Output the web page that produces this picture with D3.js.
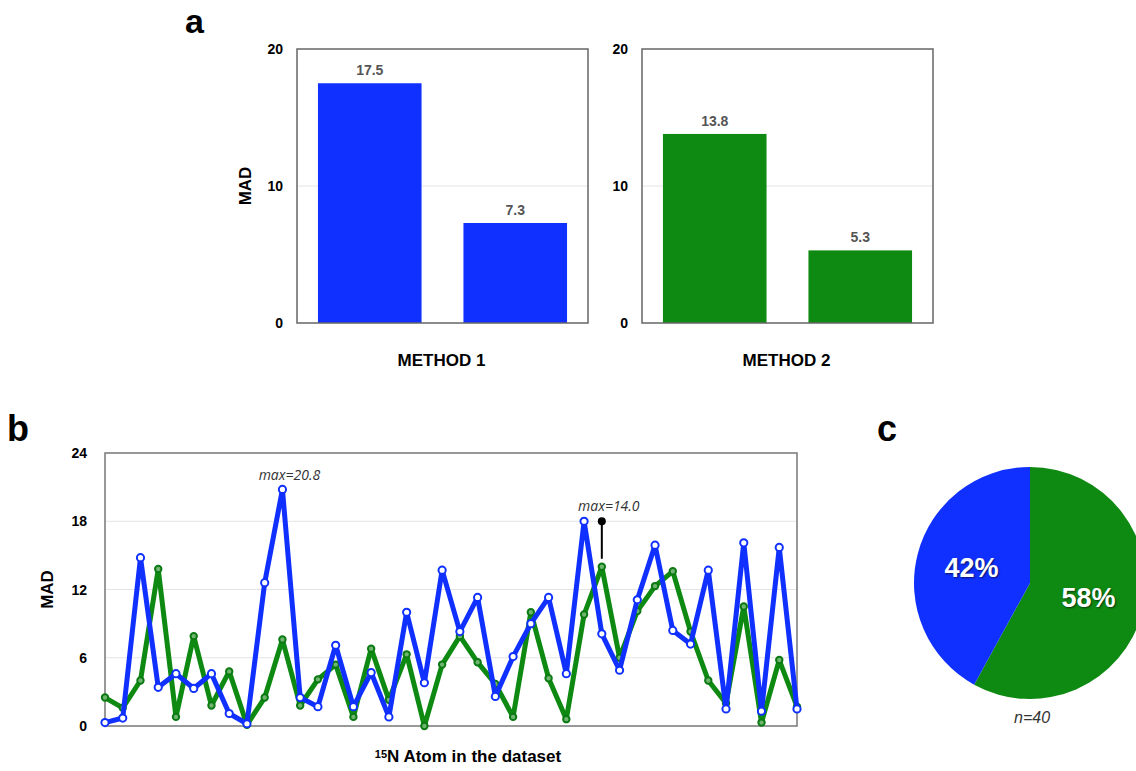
<!DOCTYPE html>
<html>
<head>
<meta charset="utf-8">
<script src="https://cdn.jsdelivr.net/npm/d3@7"></script>
<style>
  body { margin: 0; background: #fff; }
  svg { display: block; font-family: "Liberation Sans", Arial, sans-serif; }
  .pielabel { text-shadow: 1px 1px 2px rgba(0,0,0,0.6); }
</style>
</head>
<body>
<div id="fig"></div>
<script>
// colours
const BLUE = "#1030ff";
const GREEN = "#0e8a12";

// panel a data
const methods = ["METHOD 1", "METHOD 2"];
const barGroups = ["before", "after"];
const method1Values = [17.5, 7.3];
const method2Values = [13.8, 5.3];
const barTicks = [0, 10, 20];

// panel b data (40 atoms)
const blueSeries = [0.3, 0.7, 14.8, 3.4, 4.6, 3.3, 4.6, 1.1, 0.2, 12.6,
  20.8, 2.5, 1.7, 7.1, 1.7, 4.7, 0.8, 10.0, 3.8, 13.7,
  8.3, 11.3, 2.6, 6.1, 9.0, 11.3, 4.6, 18.0, 8.1, 4.9,
  11.1, 15.9, 8.4, 7.2, 13.7, 1.5, 16.1, 1.3, 15.7, 1.5];
const greenSeries = [2.5, 1.6, 4.0, 13.8, 0.8, 7.9, 1.8, 4.8, 0.1, 2.5,
  7.6, 1.8, 4.1, 5.4, 0.8, 6.8, 2.3, 6.3, 0.0, 5.4,
  7.9, 5.6, 3.7, 0.8, 10.0, 4.2, 0.6, 9.8, 14.0, 6.0,
  10.1, 12.3, 13.6, 8.3, 4.0, 2.0, 10.5, 0.3, 5.8, 1.7];
const lineTicks = [0, 6, 12, 18, 24];

// panel c data
const pieLabels = ["58%", "42%"];
const pieValues = [58, 42];
const pieColors = [GREEN, BLUE];
const pieN = "n=40";

const svg = d3.select("#fig").append("svg")
  .attr("width", 1136).attr("height", 771);

//////////////// panel a ////////////////
svg.append("text").attr("x", 185).attr("y", 33)
  .attr("font-size", 34).attr("font-weight", "bold").text("a");

function barPanel(left, values, color, label, showMad) {
  const w = 291, top = 49, h = 274;
  const g = svg.append("g").attr("transform", `translate(${left},${top})`);
  const x = d3.scaleBand().domain(barGroups).range([0, w])
    .paddingInner(0.288).paddingOuter(0.144);
  const y = d3.scaleLinear().domain([0, 20]).range([h, 0]);

  g.append("line").attr("x1", 0).attr("x2", w)
    .attr("y1", y(10)).attr("y2", y(10))
    .attr("stroke", "#e4e4e4").attr("stroke-width", 1);

  g.selectAll("rect.bar").data(values).join("rect")
    .attr("class", "bar")
    .attr("x", (d, i) => x(barGroups[i]))
    .attr("width", x.bandwidth())
    .attr("y", d => y(d))
    .attr("height", d => h - y(d))
    .attr("fill", color);

  g.selectAll("text.val").data(values).join("text")
    .attr("class", "val")
    .attr("x", (d, i) => x(barGroups[i]) + x.bandwidth() / 2)
    .attr("y", d => y(d) - 8)
    .attr("text-anchor", "middle")
    .attr("font-size", 14).attr("font-weight", "bold")
    .attr("fill", "#555").text(d => d.toFixed(1));

  g.append("rect").attr("width", w).attr("height", h)
    .attr("fill", "none").attr("stroke", "#666").attr("stroke-width", 1.5);

  g.selectAll("text.tick").data(barTicks).join("text")
    .attr("class", "tick")
    .attr("x", -14).attr("y", d => y(d) + 5)
    .attr("text-anchor", "end")
    .attr("font-size", 14).attr("font-weight", "bold").text(d => d);

  g.append("text").attr("x", w / 2 - 1).attr("y", h + 43)
    .attr("text-anchor", "middle")
    .attr("font-size", 17).attr("font-weight", "bold").text(label);

  if (showMad) {
    g.append("text")
      .attr("transform", `translate(${-46},${y(10)}) rotate(-90)`)
      .attr("text-anchor", "middle")
      .attr("font-size", 17).attr("font-weight", "bold").text("MAD");
  }
}
barPanel(297, method1Values, BLUE, methods[0], true);
barPanel(642, method2Values, GREEN, methods[1], false);

//////////////// panel b ////////////////
svg.append("text").attr("x", 7).attr("y", 441)
  .attr("font-size", 36).attr("font-weight", "bold").text("b");

const bm = { left: 105, top: 453, width: 692, height: 273 };
const gb = svg.append("g").attr("transform", `translate(${bm.left},${bm.top})`);
const xb = d3.scaleLinear().domain([0, blueSeries.length - 1]).range([0, bm.width]);
const yb = d3.scaleLinear().domain([0, 24]).range([bm.height, 0]);

gb.selectAll("line.grid").data(lineTicks.slice(1, 4)).join("line")
  .attr("class", "grid")
  .attr("x1", 0).attr("x2", bm.width)
  .attr("y1", d => yb(d)).attr("y2", d => yb(d))
  .attr("stroke", "#e4e4e4");

gb.append("rect").attr("width", bm.width).attr("height", bm.height)
  .attr("fill", "none").attr("stroke", "#777").attr("stroke-width", 1.5);

gb.selectAll("text.tick").data(lineTicks).join("text")
  .attr("class", "tick")
  .attr("x", -18).attr("y", d => yb(d) + 5)
  .attr("text-anchor", "end")
  .attr("font-size", 14).attr("font-weight", "bold").text(d => d);

gb.append("text")
  .attr("transform", `translate(${-52},${yb(12)}) rotate(-90)`)
  .attr("text-anchor", "middle")
  .attr("font-size", 17).attr("font-weight", "bold").text("MAD");

const xl = gb.append("text").attr("x", 363).attr("y", 309)
  .attr("text-anchor", "middle")
  .attr("font-size", 17).attr("font-weight", "bold");
xl.append("tspan").attr("font-size", 11).attr("dy", -4).text("15");
xl.append("tspan").attr("dy", 4).text("N Atom in the dataset");

const lineGen = d3.line().x((d, i) => xb(i)).y(d => yb(d));

gb.append("path").datum(greenSeries)
  .attr("d", lineGen).attr("fill", "none")
  .attr("stroke", GREEN).attr("stroke-width", 5).attr("stroke-linejoin", "round");
gb.selectAll("circle.g").data(greenSeries).join("circle")
  .attr("class", "g")
  .attr("cx", (d, i) => xb(i)).attr("cy", d => yb(d))
  .attr("r", 3.2).attr("fill", "#6fb56f").attr("stroke", "#0b7a12").attr("stroke-width", 2);

gb.append("path").datum(blueSeries)
  .attr("d", lineGen).attr("fill", "none")
  .attr("stroke", BLUE).attr("stroke-width", 5).attr("stroke-linejoin", "round");
gb.selectAll("circle.b").data(blueSeries).join("circle")
  .attr("class", "b")
  .attr("cx", (d, i) => xb(i)).attr("cy", d => yb(d))
  .attr("r", 3.6).attr("fill", "#fff").attr("stroke", BLUE).attr("stroke-width", 2);

// max annotations
const blueMaxI = d3.maxIndex(blueSeries);
const greenMaxI = d3.maxIndex(greenSeries);
gb.append("text")
  .attr("x", xb(blueMaxI) + 7).attr("y", yb(blueSeries[blueMaxI]) - 9)
  .attr("text-anchor", "middle").attr("font-style", "italic")
  .attr("font-family", "'Open Sans', sans-serif")
  .attr("font-size", 14).attr("fill", "#333")
  .text("max=" + blueSeries[blueMaxI].toFixed(1));

gb.append("line")
  .attr("x1", xb(greenMaxI)).attr("x2", xb(greenMaxI))
  .attr("y1", yb(18)).attr("y2", yb(greenSeries[greenMaxI]) - 8)
  .attr("stroke", "#000").attr("stroke-width", 2);
gb.append("circle").attr("cx", xb(greenMaxI)).attr("cy", yb(18))
  .attr("r", 4).attr("fill", "#000");
gb.append("text")
  .attr("x", xb(greenMaxI) + 7).attr("y", yb(18) - 10)
  .attr("text-anchor", "middle").attr("font-style", "italic")
  .attr("font-family", "'Open Sans', sans-serif")
  .attr("font-size", 14).attr("fill", "#333")
  .text("max=" + greenSeries[greenMaxI].toFixed(1));

//////////////// panel c ////////////////
svg.append("text").attr("x", 877).attr("y", 441)
  .attr("font-size", 36).attr("font-weight", "bold").text("c");

const pieR = 116;
const gc = svg.append("g").attr("transform", "translate(1030,583)");
const arcs = d3.pie().sort(null)(pieValues);
const arcGen = d3.arc().innerRadius(0).outerRadius(pieR);
gc.selectAll("path").data(arcs).join("path")
  .attr("d", arcGen).attr("fill", (d, i) => pieColors[i]);

const labelArc = d3.arc().innerRadius(pieR * 0.52).outerRadius(pieR * 0.52);
gc.selectAll("text.pielabel").data(arcs).join("text")
  .attr("class", "pielabel")
  .attr("transform", d => {
    const c = labelArc.centroid(d);
    return `translate(${c[0]},${c[1]})`;
  })
  .attr("dy", "0.35em")
  .attr("text-anchor", "middle")
  .attr("fill", "#fff").attr("font-size", 27).attr("font-weight", "bold")
  .text((d, i) => pieLabels[i]);

gc.append("text").attr("x", 2).attr("y", 140)
  .attr("text-anchor", "middle").attr("font-style", "italic")
  .attr("font-size", 16).attr("fill", "#333").text(pieN);
</script>
</body>
</html>
